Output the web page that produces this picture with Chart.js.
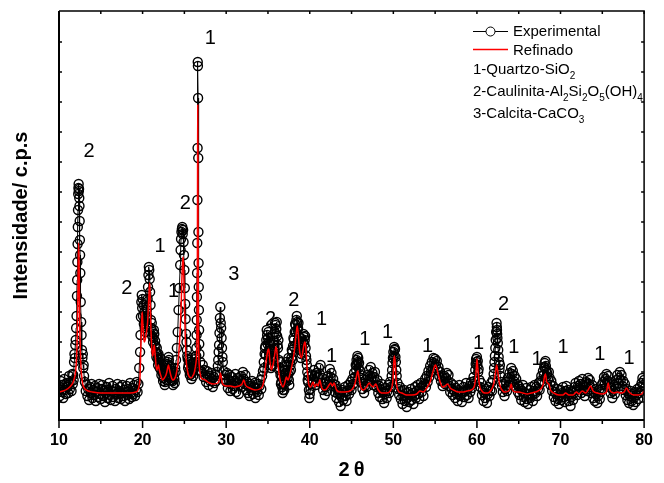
<!DOCTYPE html>
<html>
<head>
<meta charset="utf-8">
<title>DRX - refinamento</title>
<script src="https://cdn.jsdelivr.net/npm/chart.js@4.4.1/dist/chart.umd.min.js"></script>
<style>
  body { margin: 0; background: #fff; }
  canvas { display: block; }
</style>
</head>
<body>
<canvas id="drx" width="664" height="483"></canvas>
<script>
const FONT = '"Liberation Sans", Arial, Helvetica, sans-serif';

// experimental pattern, [2theta, intensity]
const expLow = [
  [10.0,31],[10.1,24],[10.2,39],[10.3,28],[10.4,35],[10.5,22],[10.6,41],[10.7,30],[10.8,26],[10.9,37],
  [11.0,33],[11.1,27],[11.2,44],[11.3,31],[11.4,38],[11.5,29],[11.6,46],[11.65,36],[11.7,45],[11.75,40],
  [11.8,58],[11.85,66],[11.9,62],[11.95,75],[12.0,80],[12.05,92],[12.1,104],[12.15,124],[12.175,140],[12.2,158],
  [12.225,176],[12.25,193],[12.275,210],[12.3,226],[12.325,232],[12.35,236],[12.375,229],[12.4,231],[12.425,222],[12.45,214],
  [12.475,199],[12.5,180],[12.525,165],[12.55,147],[12.6,118],[12.65,98],[12.7,85],[12.75,70],[12.8,62],[12.85,66],
  [12.9,52],[12.95,55],[13.0,44],
  [13.1,38],[13.2,29],[13.3,35],[13.4,24],[13.5,31],[13.6,20],[13.7,33],[13.8,27],[13.9,36],[14.0,22],
  [14.1,30],[14.2,25],[14.3,34],[14.4,19],[14.5,28],[14.6,32],[14.7,23],[14.8,36],[14.9,26],[15.0,21],
  [15.1,31],[15.2,35],[15.3,24],[15.4,29],[15.5,18],[15.6,27],[15.7,33],[15.8,22],[15.9,30],[16.0,37],
  [16.1,25],[16.2,20],[16.3,29],[16.4,34],[16.5,23],[16.6,28],[16.7,19],[16.8,31],[16.9,26],[17.0,36],
  [17.1,22],[17.2,29],[17.3,33],[17.4,21],[17.5,27],[17.6,35],[17.7,24],[17.8,30],[17.9,19],[18.0,28],
  [18.1,34],[18.2,25],[18.3,31],[18.4,21],[18.5,37],[18.6,27],[18.7,23],[18.8,32],[18.9,26],[19.0,35],
  [19.1,24],[19.2,30],[19.3,38],[19.4,28]
];
const expClay = [
  [19.5,36],[19.6,52],[19.7,68],[19.75,85],[19.8,103],[19.85,118],[19.9,125],[19.95,112],[20.0,121],[20.05,104],
  [20.1,115],[20.15,96],[20.2,108],[20.25,92],[20.3,99],[20.35,88],[20.4,102],[20.45,94],[20.5,110],[20.55,104],
  [20.6,121],[20.65,133],[20.7,145],[20.75,153],[20.8,150],[20.85,141],[20.9,128],[20.95,115],[21.0,100],[21.05,92],
  [21.1,97],[21.15,84],[21.2,88],[21.25,78],[21.3,82],[21.35,90],[21.4,86],[21.45,75],[21.5,79],[21.55,74],
  [21.6,68],[21.65,63],[21.7,72],[21.75,66],[21.8,61],[21.85,55],[21.9,66],[21.95,60],[22.0,57],[22.05,52],
  [22.1,62],[22.15,57],[22.2,50],[22.25,45],[22.3,55],[22.35,51],[22.4,47],[22.45,39],[22.5,42],[22.55,46],
  [22.6,50],[22.65,35],[22.7,38],[22.75,48],[22.8,45],[22.85,40],[22.9,52],[22.95,56],[23.0,58],[23.05,50],
  [23.1,63],[23.15,60],[23.2,55],[23.25,44],[23.3,48],[23.35,51],[23.4,53],[23.45,40],[23.5,44],[23.55,49],
  [23.6,39],[23.65,35],[23.7,47],[23.75,43],[23.8,41],[23.85,37],[23.9,52],[23.95,48],[24.0,60],[24.1,72],
  [24.2,88],[24.3,110],[24.4,132],[24.5,155],[24.55,170],[24.6,181],[24.65,188],[24.7,191],[24.75,193],[24.8,186],
  [24.85,190],[24.9,178],[24.95,165],[25.0,150],[25.05,132],[25.1,116],[25.15,101],[25.2,86],[25.25,78],[25.3,70],
  [25.35,64],[25.4,61],[25.45,52],[25.5,55],[25.55,60],[25.6,49],[25.65,45],[25.7,58],[25.75,51],[25.8,46],
  [25.85,41],[25.9,53],[25.95,57],[26.0,48],[26.05,44],[26.1,57],[26.15,51],[26.2,52],[26.25,63],[26.3,61],
  [26.35,58],[26.38,55],[26.42,64],[26.44,72],[26.46,85],[26.48,100],[26.5,123],[26.52,147],[26.54,177],[26.56,220],
  [26.58,272],[26.6,358],[26.62,354],[26.64,322],[26.66,262],[26.68,188],[26.7,157],[26.72,133],[26.74,110],[26.76,90],
  [26.78,76],[26.8,66],[26.9,58],[27.0,49]
];
const expMid = [
  [27.1,48],[27.2,55],[27.3,43],[27.4,50],[27.5,45],[27.6,38],[27.7,49],[27.8,42],[27.9,35],[28.0,44],
  [28.1,39],[28.2,47],[28.3,41],[28.4,33],[28.5,43],[28.6,37],[28.7,45],[28.8,39],[28.9,48],[29.0,54],
  [29.05,60],[29.1,68],[29.15,75],[29.2,87],[29.25,102],[29.3,113],[29.35,97],[29.4,92],[29.45,82],[29.5,72],
  [29.55,63],[29.6,58],[29.7,49],[29.8,41],[29.9,45],[30.0,38],[30.1,47],[30.2,32],[30.3,40],[30.4,45],
  [30.5,29],[30.6,36],[30.7,43],[30.8,31],[30.9,39],[31.0,34],[31.1,46],[31.2,28],[31.3,37],[31.4,42],
  [31.5,26],[31.6,35],[31.7,40],[31.8,44],[31.9,33],[32.0,48],[32.1,41],[32.2,36],[32.3,45],[32.4,30],
  [32.5,38],[32.6,27],[32.7,34],[32.8,24],[32.9,36],[33.0,30],[33.1,39],[33.2,26],[33.3,33],[33.4,37],
  [33.5,22],[33.6,31],[33.7,28],[33.8,36],[33.9,25],[34.0,34],[34.1,40],[34.2,31],[34.3,44],[34.4,49],
  [34.5,58],[34.55,52],[34.6,66],[34.65,72],[34.7,74],[34.75,65],[34.8,80],[34.85,90],[34.9,85],[34.95,76],
  [35.0,82],[35.05,88],[35.1,78],[35.15,66],[35.2,70],[35.25,76],[35.3,63],[35.35,52],[35.4,55],[35.45,64],
  [35.5,60],[35.55,54],[35.6,68],[35.65,75],[35.7,79],[35.75,70],[35.8,88],[35.85,97],[35.9,95],[35.95,86],
  [36.0,91],[36.05,98],[36.1,84],[36.15,75],[36.2,72],[36.25,80],[36.3,60],[36.35,50],[36.4,52],[36.45,58],
  [36.5,45],[36.55,36],[36.6,38],[36.65,44],[36.7,33],[36.75,27],[36.8,30],[36.85,40],[36.9,36],[36.95,30],
  [37.0,41],[37.05,50],[37.1,47],[37.15,38],[37.2,58],[37.25,55],[37.3,50],[37.35,42],[37.4,46],[37.45,62],
  [37.5,40],[37.55,35],[37.6,48],[37.65,58],[37.7,55],[37.75,50],[37.8,62],[37.85,70],[37.9,68],[37.95,60],
  [38.0,74],[38.05,82],[38.1,80],[38.15,73],[38.2,88],[38.25,96],[38.3,95],[38.35,88],[38.4,100],[38.45,104],
  [38.5,98],[38.55,90],[38.6,92],[38.65,97],[38.7,84],[38.75,78],[38.8,76],[38.85,82],[38.9,70],[38.95,62],
  [39.0,66],[39.05,74],[39.1,72],[39.15,68],[39.2,78],[39.25,86],[39.3,83],[39.35,76],[39.4,80],[39.45,84],
  [39.5,72],[39.55,64],[39.6,60],[39.65,55],[39.7,48],[39.75,40],[39.8,38],[39.85,44],[39.9,30],[39.95,22],
  [40.0,26]
];
const expHigh = [
  [40.1,31],[40.2,36],[40.3,45],[40.4,40],[40.5,50],[40.6,44],[40.7,35],[40.8,47],[40.9,38],[41.0,43],
  [41.1,52],[41.2,46],[41.3,55],[41.4,37],[41.5,42],[41.6,30],[41.7,36],[41.8,25],[41.9,33],[42.0,38],
  [42.1,29],[42.2,44],[42.3,39],[42.4,51],[42.5,43],[42.6,47],[42.7,34],[42.8,41],[42.9,36],[43.0,28],
  [43.1,35],[43.2,22],[43.3,31],[43.4,26],[43.5,18],[43.6,27],[43.7,14],[43.8,23],[43.9,30],[44.0,20],
  [44.1,28],[44.2,33],[44.3,24],[44.4,19],[44.5,29],[44.6,35],[44.7,26],[44.8,32],[44.9,38],[45.0,30],
  [45.1,41],[45.2,36],[45.3,47],[45.4,43],[45.5,55],[45.55,50],[45.6,60],[45.65,56],[45.7,64],[45.75,58],
  [45.8,62],[45.85,52],[45.9,57],[45.95,46],[46.0,49],[46.1,38],[46.2,42],[46.3,31],[46.4,36],[46.5,27],
  [46.6,34],[46.7,40],[46.8,33],[46.9,45],[47.0,39],[47.1,50],[47.2,44],[47.3,53],[47.4,41],[47.5,47],
  [47.6,35],[47.7,43],[47.8,48],[47.9,38],[48.0,33],[48.1,40],[48.2,27],[48.3,34],[48.4,23],[48.5,30],
  [48.6,36],[48.7,21],[48.8,28],[48.9,17],[49.0,26],[49.1,32],[49.2,22],[49.3,29],[49.4,35],[49.5,27],
  [49.6,38],[49.7,33],[49.8,44],[49.85,50],[49.9,57],[49.95,62],[50.0,68],[50.05,64],[50.1,73],[50.15,70],
  [50.2,71],[50.25,63],[50.3,58],[50.35,50],[50.4,44],[50.5,37],[50.6,31],[50.7,25],[50.8,33],[50.9,21],
  [51.0,29],[51.1,16],[51.2,24],[51.3,30],[51.4,19],[51.5,27],[51.6,13],[51.7,22],[51.8,28],[51.9,18],
  [52.0,25],[52.1,31],[52.2,20],[52.3,27],[52.4,16],[52.5,24],[52.6,33],[52.7,22],[52.8,29],[52.9,35],
  [53.0,26],[53.1,21],[53.2,32],[53.3,37],[53.4,28],[53.5,34],[53.6,24],[53.7,36],[53.8,41],[53.9,33],
  [54.0,44],[54.1,38],[54.2,49],[54.3,43],[54.4,54],[54.5,48],[54.6,58],[54.7,52],[54.8,62],[54.9,57],
  [55.0,61],[55.1,55],[55.2,59],[55.3,50],[55.4,53],[55.5,44],[55.6,48],[55.7,39],[55.8,43],[55.9,34],
  [56.0,38],[56.1,44],[56.2,36],[56.3,42],[56.4,47],[56.5,39],[56.6,45],[56.7,34],[56.8,28],[56.9,37],
  [57.0,31],[57.1,25],[57.2,35],[57.3,29],[57.4,22],[57.5,32],[57.6,26],[57.7,19],[57.8,30],[57.9,35],
  [58.0,24],[58.1,28],[58.2,18],[58.3,27],[58.4,33],[58.5,23],[58.6,29],[58.7,37],[58.8,25],[58.9,31],
  [59.0,22],[59.1,34],[59.2,28],[59.3,38],[59.4,32],[59.5,36],[59.6,43],[59.7,39],[59.8,50],[59.85,56],
  [59.9,61],[59.95,58],[60.0,63]
];
const expTail = [
  [60.05,55],[60.1,59],[60.15,48],[60.2,51],[60.3,40],[60.4,33],[60.5,37],[60.6,25],[60.7,30],[60.8,19],
  [60.9,27],[61.0,22],[61.1,31],[61.2,17],[61.3,26],[61.4,33],[61.5,24],[61.6,30],[61.7,37],[61.8,29],
  [61.9,40],[62.0,46],[62.05,52],[62.1,58],[62.15,64],[62.2,72],[62.25,80],[62.3,88],[62.35,97],[62.38,93],
  [62.4,90],[62.42,86],[62.45,82],[62.5,77],[62.55,70],[62.6,63],[62.65,58],[62.7,51],[62.75,55],[62.8,44],
  [62.9,38],[63.0,34],[63.1,28],[63.2,36],[63.3,24],[63.4,31],[63.5,38],[63.6,29],[63.7,42],[63.8,35],
  [63.9,47],[64.0,41],[64.1,52],[64.2,46],[64.3,49],[64.4,39],[64.5,44],[64.6,33],[64.7,41],[64.8,36],
  [64.9,28],[65.0,34],[65.1,25],[65.2,31],[65.3,20],[65.4,29],[65.5,35],[65.6,23],[65.7,18],[65.8,27],
  [65.9,32],[66.0,21],[66.1,16],[66.2,26],[66.3,30],[66.4,22],[66.5,33],[66.6,25],[66.7,19],[66.8,29],
  [66.9,35],[67.0,27],[67.1,33],[67.2,24],[67.3,31],[67.4,37],[67.5,30],[67.6,39],[67.7,44],[67.8,38],
  [67.9,49],[68.0,45],[68.05,53],[68.1,57],[68.15,52],[68.2,59],[68.25,54],[68.3,50],[68.35,44],[68.4,47],
  [68.5,41],[68.6,48],[68.7,42],[68.8,35],[68.9,39],[69.0,29],[69.1,34],[69.2,23],[69.3,28],[69.4,19],
  [69.5,26],[69.6,31],[69.7,21],[69.8,16],[69.9,25],[70.0,30],[70.1,20],[70.2,27],[70.3,33],[70.4,23],
  [70.5,18],[70.6,29],[70.7,34],[70.8,24],[70.9,30],[71.0,19],[71.1,26],[71.2,14],[71.3,23],[71.4,29],
  [71.5,20],[71.6,27],[71.7,33],[71.8,37],[71.9,30],[72.0,25],[72.1,34],[72.2,39],[72.3,31],[72.4,36],
  [72.5,27],[72.6,41],[72.7,35],[72.8,30],[72.9,24],[73.0,33],[73.1,38],[73.2,29],[73.3,42],[73.4,36],
  [73.5,40],[73.6,33],[73.7,27],[73.8,35],[73.9,22],[74.0,28],[74.1,19],[74.2,26],[74.3,31],[74.4,17],
  [74.5,24],[74.6,30],[74.7,21],[74.8,28],[74.9,35],[75.0,31],[75.1,38],[75.2,43],[75.3,36],[75.4,41],
  [75.5,46],[75.6,39],[75.7,44],[75.8,33],[75.9,38],[76.0,27],[76.1,32],[76.2,22],[76.3,29],[76.4,35],
  [76.5,26],[76.6,33],[76.7,40],[76.8,45],[76.9,37],[77.0,42],[77.1,48],[77.2,40],[77.3,45],[77.4,34],
  [77.5,39],[77.6,30],[77.7,36],[77.8,25],[77.9,31],[78.0,20],[78.1,27],[78.2,17],[78.3,24],[78.4,29],
  [78.5,19],[78.6,26],[78.7,15],[78.8,22],[78.9,28],[79.0,18],[79.1,25],[79.2,31],[79.3,21],[79.4,27],
  [79.5,33],[79.6,29],[79.7,37],[79.8,42],[79.9,35],[80.0,40]
];

// refined (calculated) profile, [2theta, intensity]
const calcLow = [
  [10.0,28],[10.5,29],[11.0,31],[11.4,34],[11.7,38],[11.9,44],[12.0,50],[12.1,62],[12.2,90],[12.25,118],
  [12.3,155],[12.35,177],[12.4,158],[12.45,118],[12.5,88],[12.6,58],[12.7,45],[12.8,38],[12.9,34],[13.1,31],
  [13.5,29],[14.0,28],[15.0,27],[17.0,27],[18.5,27],[19.2,28],[19.5,31]
];
const calcClay = [
  [19.7,45],[19.8,75],[19.9,100],[19.95,108],[20.0,102],[20.1,85],[20.2,78],[20.3,80],[20.4,84],[20.5,90],
  [20.6,98],[20.7,115],[20.8,132],[20.85,137],[20.9,125],[21.0,90],[21.1,72],[21.2,64],[21.3,68],[21.4,75],
  [21.5,66],[21.6,55],[21.7,50],[21.8,52],[21.9,55],[22.0,50],[22.2,44],[22.4,40],[22.6,42],[22.8,45],
  [22.9,48],[23.0,52],[23.1,55],[23.2,51],[23.4,44],[23.6,40],[23.8,41],[24.0,45],[24.2,55],[24.4,75],
  [24.6,110],[24.7,140],[24.8,160],[24.85,163],[24.9,155],[25.0,120],[25.1,85],[25.2,62],[25.4,48],[25.6,43],
  [25.8,42],[26.0,44],[26.2,48],[26.4,58],[26.5,75],[26.55,140],[26.58,250],[26.6,315],[26.62,270],[26.65,150],
  [26.7,80],[26.8,52],[26.9,46],[27.0,42]
];
const calcMid = [
  [27.2,41],[27.5,40],[27.8,38],[28.0,37],[28.5,36],[29.0,37],[29.2,41],[29.3,47],[29.4,44],[29.5,38],
  [29.7,35],[30.0,34],[30.5,34],[31.0,33],[31.5,34],[31.9,36],[32.1,40],[32.3,35],[32.8,32],[33.5,30],
  [34.0,31],[34.4,35],[34.6,45],[34.8,60],[35.0,70],[35.1,71],[35.2,62],[35.4,50],[35.6,55],[35.8,65],
  [35.95,73],[36.05,70],[36.2,55],[36.4,42],[36.6,36],[36.8,33],[37.0,37],[37.2,43],[37.4,40],[37.6,45],
  [37.8,52],[38.0,60],[38.2,72],[38.4,88],[38.5,94],[38.6,88],[38.8,68],[39.0,62],[39.2,70],[39.4,78],
  [39.5,75],[39.7,50],[39.9,35],[40.1,33]
];
const calcHigh = [
  [40.4,38],[40.6,33],[40.8,36],[41.0,34],[41.2,40],[41.4,33],[41.7,30],[42.0,31],[42.3,35],[42.5,37],
  [42.7,34],[42.9,37],[43.2,30],[43.6,28],[44.2,28],[45.0,30],[45.4,36],[45.6,44],[45.75,49],[45.9,42],
  [46.1,33],[46.4,30],[46.8,33],[47.1,37],[47.3,35],[47.6,33],[47.9,36],[48.2,30],[48.6,27],[49.2,27],
  [49.7,30],[49.95,40],[50.1,64],[50.2,60],[50.35,38],[50.6,29],[51.0,27],[51.6,25],[52.2,25],[52.8,26],
  [53.2,29],[53.6,28],[54.0,32],[54.4,38],[54.7,47],[54.9,53],[55.05,55],[55.3,48],[55.6,38],[55.9,33],
  [56.2,34],[56.5,36],[56.8,32],[57.2,30],[57.8,28],[58.3,28],[58.8,29],[59.3,30],[59.7,34],[59.9,48],
  [60.0,61]
];
const calcTail = [
  [60.1,52],[60.3,35],[60.6,29],[60.9,27],[61.3,27],[61.7,30],[62.0,36],[62.2,46],[62.35,55],[62.5,48],
  [62.7,36],[63.0,30],[63.3,28],[63.8,29],[64.0,33],[64.1,36],[64.25,30],[64.6,28],[65.0,28],[65.5,27],
  [66.0,26],[66.5,27],[67.0,28],[67.5,30],[67.9,35],[68.1,44],[68.2,46],[68.35,38],[68.6,36],[68.8,30],
  [69.2,27],[69.8,25],[70.3,25],[70.6,27],[71.0,25],[71.5,25],[71.9,28],[72.2,26],[72.6,29],[73.0,27],
  [73.3,30],[73.6,34],[73.9,29],[74.4,27],[75.0,26],[75.5,28],[75.7,37],[75.9,30],[76.4,27],[76.8,28],
  [77.2,27],[77.6,28],[77.9,32],[78.2,28],[78.8,25],[79.3,25],[79.7,26],[80.0,29]
];

// phase markers above the reflections
const peakLabelText   = ['1', '2', '2', '1', '2', '1', '3', '2', '2', '1', '1', '1', '1', '1', '2', '1', '1', '1', '1', '1', '1'];
const peakLabelTheta  = [28.1, 13.6, 25.1, 22.1, 18.1, 23.7, 30.9, 35.3, 38.1, 41.4, 42.6, 46.6, 49.3, 54.1, 63.2, 60.2, 64.4, 67.2, 70.3, 74.7, 78.2];
const peakLabelHeight = [383, 270, 218, 175, 133, 130, 147, 102, 121, 102, 65, 82, 89, 75, 117, 78, 74, 62, 74, 67, 63];

const phaseNames = ['1-Quartzo-SiO_2', '2-Caulinita-Al_2Si_2O_5(OH)_4', '3-Calcita-CaCO_3'];
const intensityTicks = [18, 48, 78, 108, 138, 168, 198, 228, 258, 288, 318, 348, 378];

const toXY = p => ({ x: p[0], y: p[1] });
const experimental = [...expLow, ...expClay, ...expMid, ...expHigh, ...expTail].map(toXY);
const refined = [...calcLow, ...calcClay, ...calcMid, ...calcHigh, ...calcTail].map(toXY);

// text with "_c" meaning c is written as a subscript
function drawFormula(ctx, text, x, y, size) {
  let cx = x;
  for (let i = 0; i < text.length; i++) {
    let ch = text[i], sub = false;
    if (ch === '_') { ch = text[++i]; sub = true; }
    ctx.font = (sub ? Math.round(size * 0.68) : size) + 'px ' + FONT;
    ctx.fillText(ch, cx, sub ? y + 5 : y);
    cx += ctx.measureText(ch).width;
  }
}

// box around the plot with tick marks on all four sides
const framePlugin = {
  id: 'frame',
  afterDatasetsDraw(chart) {
    const { ctx, chartArea: a, scales: { x, y } } = chart;
    ctx.save();
    ctx.strokeStyle = '#000';
    ctx.lineWidth = 1.5;
    ctx.beginPath();
    ctx.moveTo(a.left, a.top); ctx.lineTo(a.right, a.top); ctx.lineTo(a.right, a.bottom);
    ctx.stroke();
    ctx.lineWidth = 2;
    ctx.beginPath();
    ctx.moveTo(a.left, a.top); ctx.lineTo(a.left, a.bottom); ctx.lineTo(a.right, a.bottom);
    ctx.stroke();

    ctx.lineWidth = 1.5;
    ctx.beginPath();
    for (let t = x.min; t <= x.max; t += 5) {
      const px = x.getPixelForValue(t);
      const len = (t % 10 === 0) ? 8 : 4;
      ctx.moveTo(px, a.bottom); ctx.lineTo(px, a.bottom + len);
      ctx.moveTo(px, a.top); ctx.lineTo(px, a.top + 3);
    }
    for (const v of intensityTicks) {
      const py = y.getPixelForValue(v);
      ctx.moveTo(a.left, py); ctx.lineTo(a.left + 3, py);
      ctx.moveTo(a.right, py); ctx.lineTo(a.right - 3, py);
    }
    ctx.stroke();
    ctx.restore();
  }
};

const peakLabelPlugin = {
  id: 'peakLabels',
  afterDatasetsDraw(chart) {
    const { ctx, scales: { x, y } } = chart;
    ctx.save();
    ctx.fillStyle = '#000';
    ctx.font = '20px ' + FONT;
    ctx.textAlign = 'center';
    ctx.textBaseline = 'alphabetic';
    peakLabelText.forEach((txt, i) => {
      ctx.fillText(txt, x.getPixelForValue(peakLabelTheta[i]), y.getPixelForValue(peakLabelHeight[i]) + 7);
    });
    ctx.restore();
  }
};

const legendPlugin = {
  id: 'phaseLegend',
  afterDraw(chart) {
    const ctx = chart.ctx;
    const [calcSet, expSet] = chart.data.datasets;
    ctx.save();
    ctx.textBaseline = 'alphabetic';
    ctx.textAlign = 'left';

    ctx.strokeStyle = expSet.borderColor;
    ctx.lineWidth = 1;
    ctx.beginPath(); ctx.moveTo(473, 31.5); ctx.lineTo(508, 31.5); ctx.stroke();
    ctx.beginPath(); ctx.arc(490.5, 31.5, expSet.pointRadius, 0, Math.PI * 2);
    ctx.fillStyle = '#fff'; ctx.fill(); ctx.stroke();
    ctx.fillStyle = '#000';
    ctx.font = '15px ' + FONT;
    ctx.fillText(expSet.label, 513, 36);

    ctx.strokeStyle = calcSet.borderColor;
    ctx.lineWidth = calcSet.borderWidth;
    ctx.beginPath(); ctx.moveTo(473, 49.5); ctx.lineTo(508, 49.5); ctx.stroke();
    ctx.fillText(calcSet.label, 513, 55);

    const rows = [74, 96, 118];
    phaseNames.forEach((name, i) => drawFormula(ctx, name, 473, rows[i], 15));
    ctx.restore();
  }
};

new Chart(document.getElementById('drx'), {
  type: 'line',
  data: {
    datasets: [
      {
        label: 'Refinado',
        data: refined,
        borderColor: '#ff0000',
        borderWidth: 1.5,
        pointRadius: 0,
        cubicInterpolationMode: 'monotone',
        order: 0
      },
      {
        label: 'Experimental',
        data: experimental,
        borderColor: '#000',
        borderWidth: 1,
        pointRadius: 4.5,
        pointBorderWidth: 1.4,
        pointBorderColor: '#000',
        pointBackgroundColor: 'rgba(0,0,0,0)',
        order: 1
      }
    ]
  },
  options: {
    responsive: false,
    animation: false,
    devicePixelRatio: 1,
    layout: { padding: { top: 11, right: 9, left: 0, bottom: 0 } },
    plugins: { legend: { display: false }, tooltip: { enabled: false } },
    scales: {
      x: {
        type: 'linear',
        min: 10,
        max: 80,
        grid: { display: false, drawTicks: false },
        border: { display: false },
        ticks: { stepSize: 10, padding: 11, color: '#000', font: { family: FONT, size: 16, weight: 'bold' } },
        title: {
          display: true,
          text: '2\u2009θ',
          color: '#000',
          font: { family: FONT, size: 20, weight: 'bold' },
          padding: { top: 0, bottom: 1 }
        },
        afterFit: s => { s.height = 63; }
      },
      y: {
        min: 0,
        max: 409,
        grid: { display: false, drawTicks: false },
        border: { display: false },
        ticks: { display: false },
        title: {
          display: true,
          text: 'Intensidade/ c.p.s',
          color: '#000',
          font: { family: FONT, size: 20, weight: 'bold' },
          padding: { top: 9, bottom: 0 }
        },
        afterFit: s => { s.width = 59; }
      }
    }
  },
  plugins: [framePlugin, peakLabelPlugin, legendPlugin]
});
</script>
</body>
</html>
